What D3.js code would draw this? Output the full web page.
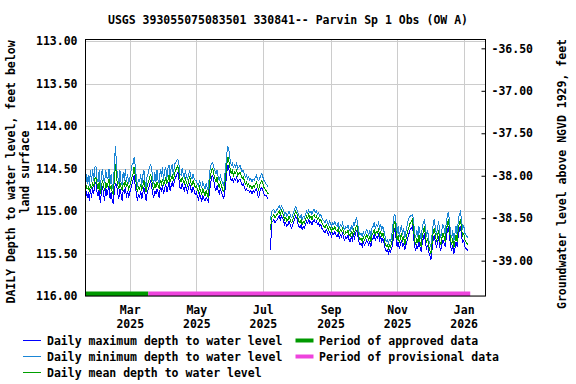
<!DOCTYPE html>
<meta charset="utf-8" />

<!-- Load d3.js -->
<script src="https://d3js.org/d3.v7.min.js"></script>

<style>
	body { margin: 0; background: #fff; }
	text { font-family: "DejaVu Sans Mono", monospace; font-weight: bold; font-size: 11.5px; fill: #000; }
</style>

<!-- Create a div where the graph will take place -->
<div id="my_dataviz"></div>

<script>
	// first day of the record; every array below holds one value per day (null = gap)
	var startDate = new Date(2025, 0, 19);

	var meanDepth = [
		114.78, 114.70, 114.74, 114.72, 114.76, 114.70, 114.73, 114.66, 114.71, 114.62,
		114.60, 114.68, 114.74, 114.66, 114.80, 114.72, 114.64, 114.70, 114.76, 114.66,
		114.72, 114.68, 114.62, 114.74, 114.70, 114.78, 114.80, 114.60, 114.45, 114.62,
		114.70, 114.74, 114.66, 114.72, 114.76, 114.68, 114.70, 114.64, 114.72, 114.68,
		114.74, 114.70, 114.66, 114.60, 114.56, 114.48, 114.58, 114.68, 114.78, 114.72,
		114.74, 114.68, 114.76, 114.70, 114.64, 114.72, 114.78, 114.70, 114.66, 114.62,
		114.56, 114.62, 114.70, 114.74, 114.68, 114.72, 114.66, 114.70, 114.74, 114.64,
		114.68, 114.62, 114.70, 114.66, 114.60, 114.68, 114.64, 114.58, 114.66, 114.62,
		114.58, 114.64, 114.56, 114.52, 114.50, 114.46, 114.54, 114.62, 114.66, 114.60,
		114.64, 114.68, 114.62, 114.66, 114.70, 114.64, 114.60, 114.66, 114.70, 114.64,
		114.68, 114.72, 114.70, 114.74, 114.78, 114.72, 114.76, 114.80, 114.74, 114.78,
		114.82, 114.76, 114.80, 114.84, 114.68, 114.58, 114.52, 114.50, 114.56, 114.62,
		114.66, 114.60, 114.68, 114.72, 114.66, 114.70, 114.74, 114.78, 114.70, 114.58,
		114.44, 114.36, 114.42, 114.50, 114.56, 114.52, 114.58, 114.54, 114.56, 114.52,
		114.58, 114.56, 114.54, 114.58, 114.62, 114.60, 114.64, 114.68, 114.66, 114.70,
		114.68, 114.72, 114.70, 114.74, 114.70, 114.72, 114.68, 114.66, 114.70, 114.76,
		114.70, 114.66, 114.64, 114.68, 114.72, 114.74, 114.76, 114.78, 114.80, null,
		115.22, 115.08, 115.06, 115.04, 115.08, 115.06, 115.04, 115.02, 115.00, 115.04,
		114.99, 115.02, 115.06, 115.10, 115.08, 115.12, 115.10, 115.06, 115.10, 115.14,
		115.12, 115.08, 115.04, 115.00, 115.02, 115.08, 115.12, 115.14, 115.10, 115.16,
		115.12, 115.14, 115.10, 115.06, 115.08, 115.04, 115.08, 115.06, 115.10, 115.06,
		115.04, 115.08, 115.06, 115.10, 115.08, 115.12, 115.10, 115.14, 115.16, 115.18,
		115.20, 115.16, 115.18, 115.22, 115.18, 115.20, 115.24, 115.20, 115.22, 115.18,
		115.22, 115.24, 115.20, 115.26, 115.22, 115.24, 115.20, 115.26, 115.28, 115.24,
		115.26, 115.22, 115.28, 115.30, 115.24, 115.28, 115.22, 115.26, 115.20, 115.16,
		115.24, 115.30, 115.34, 115.32, 115.36, 115.30, 115.34, 115.32, 115.28, 115.30,
		115.34, 115.30, 115.36, 115.28, 115.26, 115.22, 115.28, 115.24, 115.26, 115.22,
		115.28, 115.24, 115.30, 115.26, 115.32, 115.38, 115.42, 115.40, 115.44, 115.40,
		115.42, 115.38, 115.30, 115.16, 115.12, 115.24, 115.34, 115.28, 115.38, 115.32,
		115.26, 115.36, 115.30, 115.40, 115.34, 115.28, 115.22, 115.18, 115.14, 115.12,
		115.10, 115.20, 115.34, 115.40, 115.32, 115.38, 115.28, 115.36, 115.42, 115.30,
		115.24, 115.18, 115.30, 115.38, 115.32, 115.42, 115.46, 115.50, 115.38, 115.26,
		115.20, 115.28, 115.36, 115.30, 115.22, 115.34, 115.40, 115.32, 115.26, 115.30,
		115.36, 115.24, 115.16, 115.10, 115.22, 115.34, 115.40, 115.32, 115.44, 115.36,
		115.28, 115.36, 115.22, 115.14, 115.10, 115.20, 115.30, 115.26, 115.34, 115.36,
		115.38, 115.40
	];

	var minDepth = [
		114.72, 114.56, 114.68, 114.58, 114.70, 114.52, 114.66, 114.50, 114.64, 114.48,
		114.47, 114.62, 114.66, 114.52, 114.74, 114.58, 114.50, 114.64, 114.66, 114.52,
		114.60, 114.62, 114.50, 114.68, 114.56, 114.72, 114.74, 114.40, 114.24, 114.50,
		114.58, 114.68, 114.52, 114.66, 114.70, 114.54, 114.64, 114.50, 114.66, 114.56,
		114.68, 114.62, 114.54, 114.46, 114.44, 114.37, 114.46, 114.60, 114.72, 114.62,
		114.66, 114.56, 114.70, 114.58, 114.52, 114.66, 114.72, 114.58, 114.56, 114.48,
		114.46, 114.48, 114.62, 114.68, 114.54, 114.66, 114.52, 114.64, 114.68, 114.50,
		114.60, 114.48, 114.64, 114.52, 114.48, 114.62, 114.50, 114.46, 114.60, 114.48,
		114.46, 114.58, 114.44, 114.44, 114.40, 114.39, 114.44, 114.56, 114.58, 114.50,
		114.56, 114.62, 114.52, 114.60, 114.62, 114.56, 114.52, 114.60, 114.62, 114.56,
		114.62, 114.64, 114.64, 114.68, 114.70, 114.64, 114.70, 114.72, 114.66, 114.70,
		114.74, 114.68, 114.72, 114.76, 114.56, 114.48, 114.44, 114.43, 114.48, 114.52,
		114.56, 114.52, 114.60, 114.64, 114.58, 114.62, 114.66, 114.70, 114.60, 114.46,
		114.32, 114.24, 114.30, 114.40, 114.46, 114.44, 114.48, 114.46, 114.48, 114.44,
		114.50, 114.48, 114.46, 114.50, 114.54, 114.52, 114.56, 114.60, 114.58, 114.62,
		114.60, 114.64, 114.62, 114.66, 114.62, 114.64, 114.60, 114.58, 114.62, 114.64,
		114.62, 114.58, 114.56, 114.60, 114.64, 114.66, 114.68, 114.70, 114.72, null,
		115.10, 115.00, 114.99, 114.98, 115.02, 115.00, 114.98, 114.96, 114.94, 114.98,
		114.94, 114.96, 115.00, 115.04, 115.02, 115.06, 115.04, 115.00, 115.04, 115.08,
		115.06, 115.02, 114.98, 114.95, 114.97, 115.02, 115.06, 115.08, 115.04, 115.10,
		115.06, 115.08, 115.04, 115.00, 115.02, 114.99, 115.02, 115.00, 115.04, 115.00,
		114.98, 115.02, 115.00, 115.04, 115.02, 115.06, 115.04, 115.08, 115.10, 115.12,
		115.14, 115.10, 115.12, 115.16, 115.12, 115.14, 115.18, 115.14, 115.16, 115.12,
		115.16, 115.18, 115.14, 115.20, 115.16, 115.18, 115.14, 115.20, 115.22, 115.18,
		115.20, 115.16, 115.22, 115.24, 115.18, 115.22, 115.14, 115.16, 115.10, 115.08,
		115.16, 115.24, 115.28, 115.26, 115.30, 115.24, 115.28, 115.26, 115.22, 115.24,
		115.28, 115.22, 115.30, 115.20, 115.18, 115.14, 115.20, 115.16, 115.18, 115.14,
		115.20, 115.16, 115.22, 115.18, 115.24, 115.30, 115.36, 115.34, 115.38, 115.34,
		115.36, 115.30, 115.18, 115.06, 115.04, 115.14, 115.26, 115.18, 115.30, 115.22,
		115.16, 115.28, 115.20, 115.32, 115.24, 115.18, 115.12, 115.08, 115.06, 115.05,
		115.04, 115.10, 115.26, 115.32, 115.22, 115.30, 115.18, 115.26, 115.34, 115.20,
		115.14, 115.10, 115.20, 115.30, 115.22, 115.34, 115.38, 115.42, 115.28, 115.16,
		115.10, 115.18, 115.28, 115.20, 115.12, 115.24, 115.32, 115.22, 115.16, 115.20,
		115.28, 115.14, 115.06, 115.01, 115.12, 115.26, 115.32, 115.22, 115.36, 115.26,
		115.18, 115.28, 115.12, 115.04, 115.01, 115.10, 115.22, 115.16, 115.26, 115.28,
		115.30, 115.32
	];

	var maxDepth = [
		114.86, 114.76, 114.84, 114.78, 114.88, 114.74, 114.84, 114.72, 114.80, 114.68,
		114.66, 114.78, 114.82, 114.74, 114.91, 114.78, 114.70, 114.80, 114.88, 114.72,
		114.82, 114.76, 114.70, 114.86, 114.78, 114.88, 114.92, 114.74, 114.68, 114.70,
		114.80, 114.86, 114.74, 114.80, 114.88, 114.76, 114.78, 114.72, 114.84, 114.76,
		114.84, 114.78, 114.74, 114.68, 114.64, 114.58, 114.70, 114.78, 114.88, 114.80,
		114.84, 114.76, 114.86, 114.78, 114.72, 114.80, 114.88, 114.78, 114.74, 114.70,
		114.64, 114.70, 114.80, 114.84, 114.76, 114.80, 114.74, 114.78, 114.84, 114.72,
		114.76, 114.70, 114.80, 114.74, 114.68, 114.78, 114.72, 114.66, 114.76, 114.70,
		114.66, 114.72, 114.64, 114.60, 114.58, 114.54, 114.62, 114.72, 114.74, 114.68,
		114.72, 114.76, 114.70, 114.74, 114.78, 114.72, 114.68, 114.74, 114.78, 114.72,
		114.76, 114.80, 114.78, 114.82, 114.86, 114.80, 114.84, 114.88, 114.82, 114.86,
		114.88, 114.84, 114.86, 114.89, 114.78, 114.68, 114.60, 114.58, 114.64, 114.72,
		114.76, 114.70, 114.76, 114.80, 114.74, 114.78, 114.82, 114.86, 114.78, 114.68,
		114.54, 114.46, 114.52, 114.60, 114.64, 114.62, 114.66, 114.62, 114.64, 114.60,
		114.66, 114.64, 114.62, 114.66, 114.70, 114.68, 114.72, 114.76, 114.74, 114.76,
		114.76, 114.78, 114.76, 114.80, 114.76, 114.78, 114.76, 114.74, 114.78, 114.85,
		114.78, 114.74, 114.72, 114.76, 114.80, 114.82, 114.82, 114.84, 114.86, null,
		115.46, 115.14, 115.12, 115.10, 115.14, 115.12, 115.10, 115.08, 115.06, 115.10,
		115.06, 115.08, 115.12, 115.16, 115.14, 115.18, 115.16, 115.12, 115.16, 115.20,
		115.18, 115.14, 115.10, 115.06, 115.08, 115.14, 115.18, 115.20, 115.16, 115.22,
		115.18, 115.20, 115.16, 115.12, 115.14, 115.10, 115.14, 115.12, 115.16, 115.12,
		115.10, 115.14, 115.12, 115.16, 115.14, 115.18, 115.16, 115.20, 115.22, 115.24,
		115.26, 115.22, 115.24, 115.28, 115.24, 115.26, 115.30, 115.26, 115.28, 115.24,
		115.28, 115.30, 115.26, 115.32, 115.28, 115.30, 115.26, 115.32, 115.34, 115.30,
		115.32, 115.28, 115.34, 115.36, 115.30, 115.34, 115.28, 115.32, 115.26, 115.22,
		115.30, 115.36, 115.40, 115.38, 115.42, 115.36, 115.40, 115.38, 115.34, 115.36,
		115.40, 115.36, 115.42, 115.34, 115.32, 115.28, 115.34, 115.30, 115.32, 115.28,
		115.34, 115.30, 115.36, 115.32, 115.38, 115.44, 115.48, 115.46, 115.50, 115.46,
		115.48, 115.44, 115.38, 115.26, 115.20, 115.32, 115.42, 115.36, 115.44, 115.40,
		115.34, 115.42, 115.38, 115.46, 115.40, 115.36, 115.30, 115.26, 115.22, 115.20,
		115.18, 115.28, 115.42, 115.46, 115.40, 115.44, 115.36, 115.42, 115.48, 115.38,
		115.32, 115.26, 115.38, 115.44, 115.40, 115.48, 115.52, 115.57, 115.46, 115.34,
		115.28, 115.36, 115.42, 115.38, 115.30, 115.42, 115.46, 115.40, 115.34, 115.38,
		115.42, 115.32, 115.24, 115.18, 115.30, 115.42, 115.46, 115.40, 115.50, 115.44,
		115.36, 115.42, 115.30, 115.22, 115.18, 115.28, 115.38, 115.34, 115.42, 115.44,
		115.45, 115.47
	];

	// data-approval periods
	var approvedPeriod = [new Date(2025, 0, 19), new Date(2025, 2, 18)];
	var provisionalPeriod = [new Date(2025, 2, 18), new Date(2026, 0, 7)];

	// axis ticks
	var dateDomain = [new Date(2025, 0, 19), new Date(2026, 0, 21)];
	var monthTicks = [new Date(2025, 2, 1), new Date(2025, 4, 1), new Date(2025, 6, 1),
		new Date(2025, 8, 1), new Date(2025, 10, 1), new Date(2026, 0, 1)];
	var depthTicks = [113, 113.5, 114, 114.5, 115, 115.5, 116];
	var elevTicks = [-36.5, -37, -37.5, -38, -38.5, -39];
	var landSurface = 76.584; // ft above NGVD 1929, links both y axes

	var title = "USGS 393055075083501 330841-- Parvin Sp 1 Obs (OW A)";

	// plot box
	var W = 576, H = 384;
	var plotL = 85.5, plotR = 485.5, plotT = 39.5, plotB = 296;

	var svg = d3.select("#my_dataviz")
		.append("svg")
		.attr("width", W)
		.attr("height", H);

	var x = d3.scaleTime().domain(dateDomain).range([85, 485.5]);
	var y = d3.scaleLinear().domain([113, 116]).range([41.2, 296]);
	var yR = d3.scaleLinear()
		.domain([landSurface - 113, landSurface - 116])
		.range([41.2, 296]);

	// grid
	svg.append("g")
		.selectAll("line")
		.data(depthTicks)
		.join("line")
		.attr("x1", plotL).attr("x2", plotR)
		.attr("y1", d => Math.round(y(d)) + 0.5)
		.attr("y2", d => Math.round(y(d)) + 0.5)
		.attr("stroke", "#cccccc");
	svg.append("g")
		.selectAll("line")
		.data(monthTicks)
		.join("line")
		.attr("x1", d => Math.round(x(d)) + 0.5)
		.attr("x2", d => Math.round(x(d)) + 0.5)
		.attr("y1", plotT).attr("y2", plotB)
		.attr("stroke", "#cccccc");

	// approval bars
	var bars = [
		{ p: approvedPeriod, c: "#009900" },
		{ p: provisionalPeriod, c: "#ee44dd" }
	];
	svg.append("g")
		.selectAll("rect")
		.data(bars)
		.join("rect")
		.attr("x", d => x(d.p[0]))
		.attr("width", d => x(d.p[1]) - x(d.p[0]))
		.attr("y", 291.5)
		.attr("height", 4.5)
		.attr("fill", d => d.c);

	// data lines
	function lineFor(values) {
		return d3.line()
			.defined(d => d != null)
			.x((d, i) => x(d3.timeDay.offset(startDate, i)))
			.y(d => y(d))(values);
	}
	var series = [
		{ v: maxDepth, c: "#0000ff" },
		{ v: minDepth, c: "#1a86d6" },
		{ v: meanDepth, c: "#00a000" }
	];
	svg.append("g")
		.selectAll("path")
		.data(series)
		.join("path")
		.attr("d", d => lineFor(d.v))
		.attr("fill", "none")
		.attr("stroke", d => d.c)
		.attr("stroke-width", 1)
		.attr("shape-rendering", "crispEdges");

	// frame
	svg.append("rect")
		.attr("x", plotL).attr("y", plotT)
		.attr("width", plotR - plotL).attr("height", plotB - plotT)
		.attr("fill", "none")
		.attr("stroke", "#000");

	// left axis
	var la = svg.append("g")
		.attr("transform", "translate(" + plotL + ",0)")
		.call(d3.axisLeft(y).tickValues(depthTicks).tickFormat(d => d.toFixed(2)).tickSize(0).tickPadding(8));
	la.select(".domain").remove();

	// right axis
	var ra = svg.append("g")
		.attr("transform", "translate(" + plotR + ",0)")
		.call(d3.axisRight(yR).tickValues(elevTicks).tickFormat(d => d.toFixed(2))
			.tickSizeInner(-4).tickSizeOuter(0).tickPadding(6));
	ra.select(".domain").remove();
	ra.selectAll("line").attr("stroke", "#000");

	// bottom axis, month over year
	var ba = svg.append("g")
		.attr("transform", "translate(0," + plotB + ")")
		.call(d3.axisBottom(x).tickValues(monthTicks).tickSize(0).tickFormat(""));
	ba.select(".domain").remove();
	ba.selectAll(".tick").each(function (d) {
		var t = d3.select(this).append("text").attr("text-anchor", "middle");
		t.append("tspan").attr("x", 0).attr("y", 18).text(d3.timeFormat("%b")(d));
		t.append("tspan").attr("x", 0).attr("y", 31.5).text(d3.timeFormat("%Y")(d));
	});
	svg.selectAll(".tick text").attr("fill", "#000");
	svg.selectAll("g").attr("font-family", null).attr("font-size", null);

	// title
	svg.append("text")
		.attr("x", W / 2)
		.attr("y", 24)
		.attr("text-anchor", "middle")
		.text(title);

	// y axis titles
	svg.append("text")
		.attr("transform", "translate(11,172) rotate(-90)")
		.attr("text-anchor", "middle")
		.attr("dy", "0.35em")
		.text("DAILY Depth to water level, feet below");
	svg.append("text")
		.attr("transform", "translate(24.5,172) rotate(-90)")
		.attr("text-anchor", "middle")
		.attr("dy", "0.35em")
		.text("land surface");
	svg.append("text")
		.attr("transform", "translate(562,174) rotate(-90)")
		.attr("text-anchor", "middle")
		.attr("dy", "0.35em")
		.text("Groundwater level above NGVD 1929, feet");

	// legend
	var legendItems = [
		{ label: "Daily maximum depth to water level", c: "#0000ff", col: 0, row: 0, bar: false },
		{ label: "Daily minimum depth to water level", c: "#1a86d6", col: 0, row: 1, bar: false },
		{ label: "Daily mean depth to water level", c: "#00a000", col: 0, row: 2, bar: false },
		{ label: "Period of approved data", c: "#009900", col: 1, row: 0, bar: true },
		{ label: "Period of provisional data", c: "#ee44dd", col: 1, row: 1, bar: true }
	];
	var lg = svg.append("g")
		.selectAll("g")
		.data(legendItems)
		.join("g")
		.attr("transform", d => "translate(" + (d.col ? 295.5 : 23) + "," + (340.5 + d.row * 16) + ")");
	lg.append("line")
		.attr("x1", 0).attr("x2", 18)
		.attr("y1", 0).attr("y2", 0)
		.attr("stroke", d => d.c)
		.attr("stroke-width", d => d.bar ? 4 : 1);
	lg.append("text")
		.attr("x", d => d.col ? 23.5 : 24)
		.attr("y", 4)
		.text(d => d.label);
</script>
